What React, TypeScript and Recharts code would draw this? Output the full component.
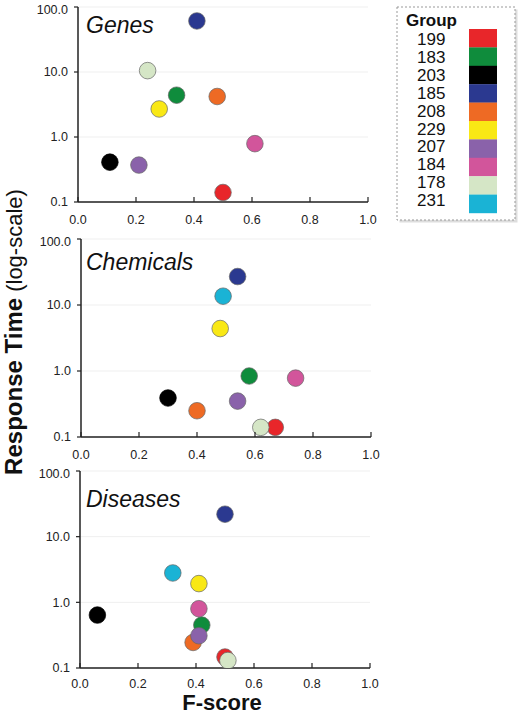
import React from "react";
import { ScatterChart, Scatter, XAxis, YAxis, CartesianGrid } from "recharts";

// ---- data ----
const groups = ["199", "183", "203", "185", "208", "229", "207", "184", "178", "231"];
const groupColors = ["#e8262a", "#0f8c3c", "#000000", "#2b3990", "#ee6a24", "#f9e815", "#8a62aa", "#d2559b", "#d5e6c6", "#1ab3d5"];

const genesF = [0.5, 0.34, 0.11, 0.41, 0.48, 0.28, 0.21, 0.61, 0.24, null];
const genesT = [0.14, 4.4, 0.41, 61, 4.2, 2.7, 0.37, 0.79, 10.5, null];

const chemF = [0.67, 0.58, 0.3, 0.54, 0.4, 0.48, 0.54, 0.74, 0.62, 0.49];
const chemT = [0.14, 0.84, 0.39, 27, 0.25, 4.4, 0.35, 0.78, 0.14, 13.6];

const disF = [0.5, 0.42, 0.06, 0.5, 0.39, 0.41, 0.41, 0.41, 0.51, 0.32];
const disT = [0.147, 0.45, 0.64, 22, 0.245, 1.93, 0.31, 0.8, 0.13, 2.8];

const xTicks = [0, 0.2, 0.4, 0.6, 0.8, 1.0];
const yTicks = [0.1, 1, 10, 100];
const panelTitles = ["Genes", "Chemicals", "Diseases"];

const FONT = "'Liberation Sans', Arial, Helvetica, sans-serif";

const panels = [
  { title: panelTitles[0], f: genesF, t: genesT, plotTop: 7, plotH: 195, plotLeft: 78, titleY: 33, tickOff: 22 },
  { title: panelTitles[1], f: chemF, t: chemT, plotTop: 239, plotH: 198, plotLeft: 81, titleY: 270, tickOff: 22 },
  { title: panelTitles[2], f: disF, t: disT, plotTop: 471, plotH: 197, plotLeft: 80, titleY: 507, tickOff: 20 },
];

const CHART_W = 400;
const Y_AXIS_W = 50;
const X_AXIS_H = 30;
const TOP_M = 5;
const PLOT_W = 290;

// x-axis tick: inward tick mark + label below the axis
function makeXTick(off: number) {
  return function XTick(props: any) {
    const { x, y, payload } = props;
    return (
      <g>
        <line x1={x} x2={x} y1={y} y2={y - 5} stroke="#222" strokeWidth={1.2} />
        <text
          x={x}
          y={y + off}
          textAnchor="middle"
          fontSize={12.5}
          fill="#222"
          fontFamily={FONT}
        >
          {Number(payload.value).toFixed(1)}
        </text>
      </g>
    );
  };
}

function Panel({ p }: { p: any }) {
  const height = TOP_M + p.plotH + X_AXIS_H;
  const marginLeft = p.plotLeft - Y_AXIS_W;
  const marginRight = CHART_W - p.plotLeft - PLOT_W;
  return (
    <div style={{ position: "absolute", left: 0, top: p.plotTop - TOP_M }}>
      <ScatterChart
        width={CHART_W}
        height={height}
        margin={{ top: TOP_M, right: marginRight, bottom: 0, left: marginLeft }}
      >
        <CartesianGrid vertical={false} stroke="#efefef" />
        <XAxis
          dataKey="f"
          type="number"
          domain={[0, 1]}
          ticks={xTicks}
          height={X_AXIS_H}
          axisLine={{ stroke: "#222", strokeWidth: 1.5 }}
          tickLine={false}
          tickSize={0}
          tickMargin={0}
          tick={makeXTick(p.tickOff)}
          allowDataOverflow
        />
        <YAxis
          dataKey="t"
          type="number"
          scale="log"
          domain={[0.1, 100]}
          ticks={yTicks}
          tickFormatter={(v: number) => v.toFixed(1)}
          width={Y_AXIS_W}
          axisLine={{ stroke: "#222", strokeWidth: 1.5 }}
          tickLine={{ stroke: "#222", strokeWidth: 1.2 }}
          tickSize={4}
          tickMargin={6}
          tick={{ fontSize: 12.5, fill: "#222", fontFamily: FONT }}
          allowDataOverflow
        />
        {groups.map((g, i) =>
          p.f[i] == null ? null : (
            <Scatter
              key={g}
              name={g}
              data={[{ f: p.f[i], t: p.t[i] }]}
              fill={groupColors[i]}
              isAnimationActive={false}
              shape={(s: any) => (
                <circle
                  cx={s.cx}
                  cy={s.cy}
                  r={8.3}
                  fill={groupColors[i]}
                  stroke={i === 2 ? "#000" : "#666"}
                  strokeWidth={0.7}
                />
              )}
            />
          )
        )}
      </ScatterChart>
    </div>
  );
}

export default function App() {
  const legLeft = 397;
  const legTop = 7;
  return (
    <div
      style={{
        position: "absolute",
        left: 0,
        top: 0,
        width: 520,
        height: 715,
        background: "#fff",
        overflow: "hidden",
        fontFamily: FONT,
      }}
    >
      {panels.map((p) => (
        <Panel key={p.title} p={p} />
      ))}
      <svg
        width={520}
        height={715}
        style={{ position: "absolute", left: 0, top: 0, pointerEvents: "none" }}
      >
        {panels.map((p) => (
          <text
            key={"t" + p.title}
            x={86}
            y={p.titleY}
            fontSize={23}
            fontStyle="italic"
            fontFamily={FONT}
            fill="#111"
          >
            {p.title}
          </text>
        ))}
        <text
          transform="rotate(-90, 22, 332)"
          x={22}
          y={332}
          textAnchor="middle"
          fontFamily={FONT}
          fill="#111"
        >
          <tspan fontSize={24} fontWeight="bold">Response Time</tspan>
          <tspan fontSize={22}> (log-scale)</tspan>
        </text>
        <text
          x={222}
          y={710}
          textAnchor="middle"
          fontSize={22}
          fontWeight="bold"
          fontFamily={FONT}
          fill="#111"
        >
          F-score
        </text>
        {/* legend */}
        <rect x={legLeft + 2.5} y={legTop + 2.5} width={118} height={213} fill="#bbb" opacity={0.5} />
        <rect
          x={legLeft}
          y={legTop}
          width={118}
          height={213}
          fill="#fff"
          stroke="#999"
          strokeWidth={1}
          strokeDasharray="2 2"
        />
        <text x={406} y={26} fontSize={17} fontWeight="bold" fontFamily={FONT} fill="#111">
          Group
        </text>
        {groups.map((g, i) => (
          <g key={"lg" + g}>
            <text x={417} y={45 + i * 17.9} fontSize={17} fontFamily={FONT} fill="#111">
              {g}
            </text>
            <rect x={469} y={29 + i * 18.4} width={28} height={18.6} fill={groupColors[i]} />
          </g>
        ))}
      </svg>
    </div>
  );
}
